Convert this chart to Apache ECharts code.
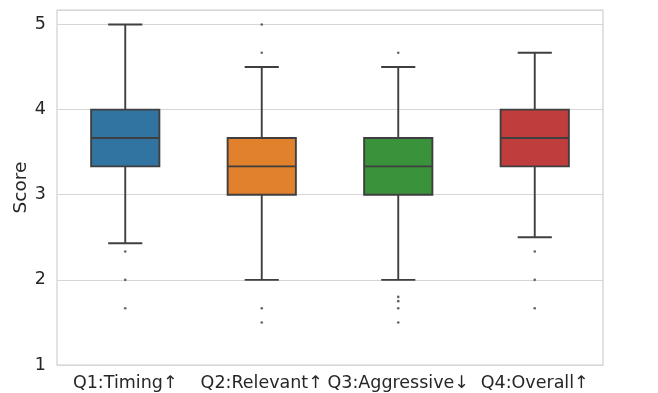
<!DOCTYPE html>
<html>
<head>
<meta charset="utf-8">
<script src="https://cdn.jsdelivr.net/npm/echarts@6/dist/echarts.min.js"></script>
<style>
  html, body { margin: 0; padding: 0; background: #fff; }
  #box { width: 658px; height: 393px; }
</style>
</head>
<body>
<div id="box"></div>
<script>
// categories and box statistics
const categories = ["Q1:Timing↑", "Q2:Relevant↑", "Q3:Aggressive↓", "Q4:Overall↑"]
const whiskerLow = [2.43, 2.0, 2.0, 2.5]
const quart1 = [3.333, 3.0, 3.0, 3.333]
const medians = [3.667, 3.333, 3.333, 3.667]
const quart3 = [4.0, 3.667, 3.667, 4.0]
const whiskerHigh = [5.0, 4.5, 4.5, 4.667]
const outliers = [
  [2.333, 2.0, 1.667],
  [5.0, 4.667, 1.667, 1.5],
  [4.667, 1.8, 1.75, 1.667, 1.5],
  [2.333, 2.0, 1.667]
]
const yTicks = [1, 2, 3, 4, 5]

const boxColors = ["#3274a1", "#e1812c", "#3a923a", "#c03d3e"]
const edge = "#3f3f3f"

const boxData = categories.map((c, i) => [i, whiskerLow[i], quart1[i], medians[i], quart3[i], whiskerHigh[i]])
const outlierData = []
outliers.forEach((list, i) => list.forEach((v) => outlierData.push([i, v])))

function renderBox(params, api) {
  const i = api.value(0)
  const band = api.size([1, 0])[0]
  const half = band * 0.25
  const cap = band * 0.125
  const lo = api.coord([i, api.value(1)])
  const p1 = api.coord([i, api.value(2)])
  const md = api.coord([i, api.value(3)])
  const p3 = api.coord([i, api.value(4)])
  const hi = api.coord([i, api.value(5)])
  const x = lo[0]
  const line = { stroke: edge, lineWidth: 1.9 }
  return {
    type: "group",
    children: [
      { type: "line", shape: { x1: x, y1: p3[1], x2: x, y2: hi[1] }, style: line },
      { type: "line", shape: { x1: x, y1: p1[1], x2: x, y2: lo[1] }, style: line },
      { type: "line", shape: { x1: x - cap, y1: hi[1], x2: x + cap, y2: hi[1] }, style: line },
      { type: "line", shape: { x1: x - cap, y1: lo[1], x2: x + cap, y2: lo[1] }, style: line },
      {
        type: "rect",
        shape: { x: x - half, y: p3[1], width: half * 2, height: p1[1] - p3[1] },
        style: { fill: boxColors[i], stroke: edge, lineWidth: 1.9 }
      },
      { type: "line", shape: { x1: x - half, y1: md[1], x2: x + half, y2: md[1] }, style: line }
    ]
  }
}

const chart = echarts.init(document.getElementById("box"), null, { renderer: "canvas" })

chart.setOption({
  animation: false,
  grid: {
    left: 57, right: 55, top: 10, bottom: 28,
    outerBoundsMode: "none",
    containLabel: false,
    show: true, borderColor: "#cfcfcf", borderWidth: 1.2
  },
  xAxis: {
    type: "category",
    data: categories,
    axisLine: { show: false },
    axisTick: { show: false },
    splitLine: { show: false },
    axisLabel: { color: "#262626", fontSize: 17.5, fontFamily: "DejaVu Sans", margin: 9, interval: 0 }
  },
  yAxis: {
    type: "value",
    min: 1,
    max: 5.17,
    interval: 1,
    name: "Score",
    nameLocation: "middle",
    nameGap: 26,
    nameMoveOverlap: false,
    nameTextStyle: { color: "#262626", fontSize: 18.5, fontFamily: "DejaVu Sans" },
    axisLine: { show: false },
    axisTick: { show: false },
    splitLine: { lineStyle: { color: "#d6d6d6", width: 1.2 } },
    axisLabel: {
      color: "#262626", fontSize: 17.5, fontFamily: "DejaVu Sans", margin: 11,
      formatter: (v) => (yTicks.includes(v) ? String(v) : "")
    }
  },
  series: [
    {
      type: "custom",
      renderItem: renderBox,
      data: boxData,
      encode: { x: 0, y: [1, 5] },
      z: 3
    },
    {
      type: "scatter",
      data: outlierData,
      symbolSize: 2.6,
      itemStyle: { color: edge },
      z: 4
    }
  ]
})
</script>
</body>
</html>
